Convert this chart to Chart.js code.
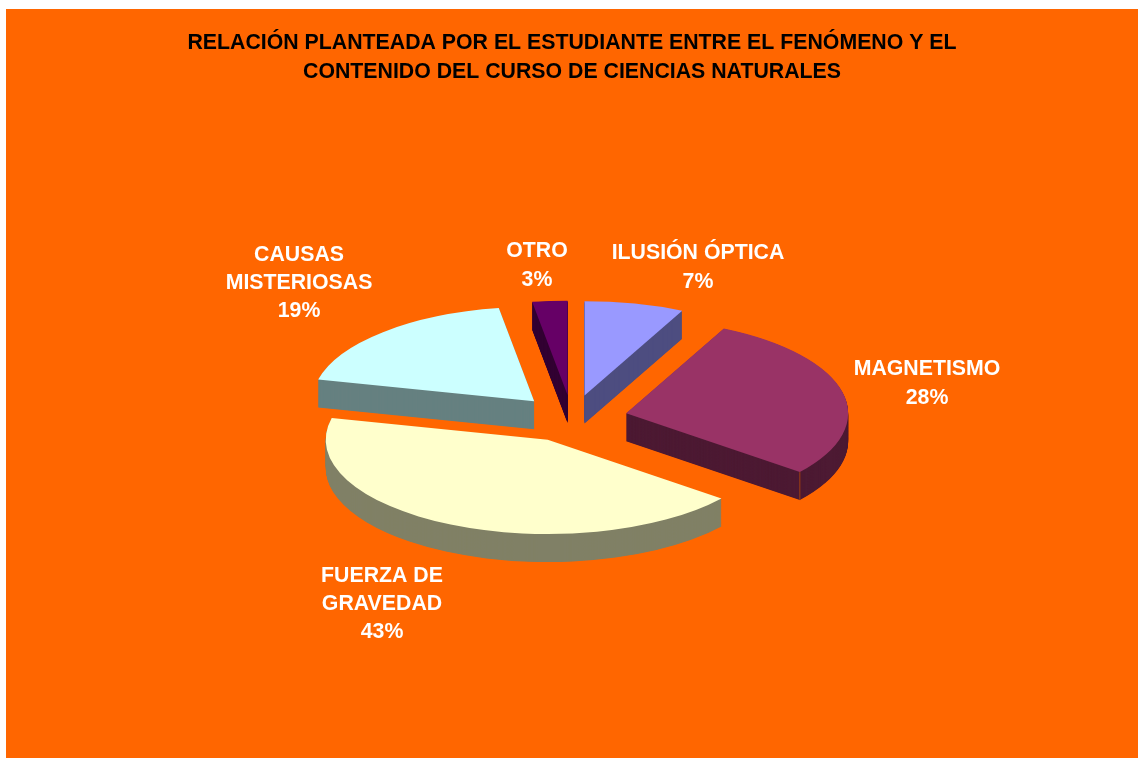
<!DOCTYPE html>
<html>
<head>
<meta charset="utf-8">
<style>html,body{margin:0;padding:0;background:#fff}canvas{display:block}</style>
<script src="https://cdn.jsdelivr.net/npm/chart.js@4/dist/chart.umd.js"></script>
</head>
<body>
<canvas id="c" width="1138" height="758"></canvas>
<script>
const titleLines = ['RELACIÓN PLANTEADA POR EL ESTUDIANTE ENTRE EL FENÓMENO Y EL', 'CONTENIDO DEL CURSO DE CIENCIAS NATURALES'];
const categories = [['ILUSIÓN ÓPTICA'], ['MAGNETISMO'], ['FUERZA DE', 'GRAVEDAD'], ['CAUSAS', 'MISTERIOSAS'], ['OTRO']];
const values = [7.25, 28.45, 43, 18.75, 2.55];
const topColors = ['#9999FF', '#993366', '#FFFFCC', '#CCFFFF', '#660066'];
const wallColors = ['#4D4D80', '#4D1A33', '#808066', '#668080', '#330033'];
const labelCenters = [[698, 253], [927, 369], [382, 576], [299, 255], [537, 251]];
const labelLineGaps = [29, 29, 28, 28, 29];

const TILT = 0.425, DEPTH = 28, EXPLODE = 55.5, RADIUS = 222;
const FONT = 'bold 21.3px "Liberation Sans", Arial, sans-serif';

const pie3d = {
  id: 'pie3d',
  beforeDraw(chart) {
    const ctx = chart.ctx;
    ctx.save();
    ctx.fillStyle = '#FF6600';
    ctx.fillRect(6, 9, chart.width - 6, chart.height - 9);
    ctx.restore();
  },
  beforeDatasetsDraw(chart) {
    const ctx = chart.ctx;
    const arcs = chart.getDatasetMeta(0).data;
    const order = arcs.map((a, i) => i).sort((p, q) => {
      const mid = i => (arcs[i].startAngle + arcs[i].endAngle) / 2;
      return Math.sin(mid(p)) - Math.sin(mid(q));
    });
    order.forEach(i => {
      const a = arcs[i];
      const mid = (a.startAngle + a.endAngle) / 2;
      ctx.save();
      ctx.translate(0, a.y);
      ctx.scale(1, TILT);
      ctx.translate(0, -a.y);
      ctx.translate(Math.cos(mid) * EXPLODE, Math.sin(mid) * EXPLODE);
      // extruded wall
      ctx.fillStyle = wallColors[i];
      for (let t = DEPTH; t > 0; t -= 0.5) {
        ctx.beginPath();
        ctx.moveTo(a.x, a.y + t / TILT);
        ctx.arc(a.x, a.y + t / TILT, a.outerRadius, a.startAngle, a.endAngle);
        ctx.closePath();
        ctx.fill();
      }
      // seam where the cut wall meets the outer wall
      if (Math.sin(a.endAngle) > 0 && Math.cos(a.endAngle) > 0) {
        const sx = a.x + Math.cos(a.endAngle) * a.outerRadius;
        const sy = a.y + Math.sin(a.endAngle) * a.outerRadius;
        ctx.fillStyle = '#A04010';
        ctx.fillRect(sx - 0.5, sy, 1, DEPTH / TILT);
      }
      // top face, drawn by the library's arc element
      a.draw(ctx);
      ctx.restore();
    });
    return false;
  },
  afterDraw(chart) {
    const ctx = chart.ctx;
    ctx.save();
    ctx.font = FONT;
    ctx.fillStyle = '#FFFFFF';
    ctx.textAlign = 'center';
    ctx.textBaseline = 'middle';
    const total = values.reduce((s, v) => s + v, 0);
    categories.forEach((lines, i) => {
      const all = lines.concat([Math.round(values[i] / total * 100) + '%']);
      all.forEach((s, n) => ctx.fillText(s, labelCenters[i][0], labelCenters[i][1] + n * labelLineGaps[i]));
    });
    ctx.restore();
  }
};

new Chart(document.getElementById('c'), {
  type: 'pie',
  data: {
    labels: categories,
    datasets: [{ data: values, backgroundColor: topColors, borderWidth: 0 }]
  },
  options: {
    responsive: false,
    animation: false,
    radius: RADIUS,
    layout: { padding: { left: 6, right: 0, top: 9, bottom: 8 } },
    plugins: {
      legend: { display: false },
      tooltip: { enabled: false },
      title: {
        display: true,
        text: titleLines,
        color: '#000000',
        font: { family: '"Liberation Sans", Arial, sans-serif', size: 21.3, weight: 'bold', lineHeight: 1.3615 },
        padding: { top: 20, bottom: 0 }
      }
    }
  },
  plugins: [pie3d]
});
</script>
</body>
</html>
